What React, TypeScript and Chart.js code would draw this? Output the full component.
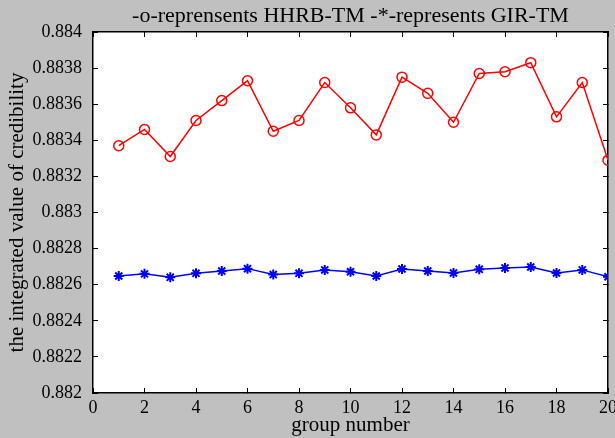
import React, { useEffect, useRef } from 'react';
import { Chart, registerables } from 'chart.js';

Chart.register(...registerables);

const groups = [1, 2, 3, 4, 5, 6, 7, 8, 9, 10, 11, 12, 13, 14, 15, 16, 17, 18, 19, 20];
const hhrbTm = [0.88337, 0.88346, 0.88331, 0.88351, 0.88362, 0.88373, 0.88345, 0.88351, 0.88372, 0.88358,
  0.88343, 0.88375, 0.88366, 0.8835, 0.88377, 0.88378, 0.88383, 0.88353, 0.88372, 0.88329];
const girTm = [0.882648, 0.88266, 0.882641, 0.882663, 0.882676, 0.882689, 0.882656, 0.882663, 0.882682, 0.882672,
  0.882648, 0.882687, 0.882676, 0.882665, 0.882685, 0.882693, 0.882698, 0.882665, 0.882682, 0.882644];
const xTicks = [0, 2, 4, 6, 8, 10, 12, 14, 16, 18, 20];
const yTicks = [0.882, 0.8822, 0.8824, 0.8826, 0.8828, 0.883, 0.8832, 0.8834, 0.8836, 0.8838, 0.884];

const titleText = '-o-reprensents HHRB-TM -*-represents GIR-TM';
const xTitle = 'group number';
const yTitle = 'the integrated value of credibility';

const FONT = 'Liberation Serif';
const GRAY = 'rgb(192,192,192)';

export default function App() {
  const ref = useRef<HTMLCanvasElement | null>(null);

  useEffect(() => {
    document.body.style.margin = '0';
    document.body.style.background = GRAY;
    const canvas = ref.current;
    if (!canvas) return;

    const whiteArea = {
      id: 'whiteArea',
      beforeDraw(chart: any) {
        const { ctx, chartArea } = chart;
        ctx.save();
        ctx.fillStyle = '#ffffff';
        ctx.fillRect(chartArea.left, chartArea.top, chartArea.right - chartArea.left, chartArea.bottom - chartArea.top);
        ctx.restore();
      },
    };

    const fmt = (v: any) => parseFloat(Number(v).toFixed(4)).toString();

    const chart = new Chart(canvas, {
      type: 'line',
      data: {
        datasets: [
          {
            label: 'HHRB-TM',
            data: groups.map((g, i) => ({ x: g, y: hhrbTm[i] })),
            borderColor: 'rgb(255,0,0)',
            backgroundColor: 'rgba(0,0,0,0)',
            borderWidth: 1.5,
            pointStyle: 'circle',
            pointRadius: 5,
            pointBorderWidth: 1.5,
            pointBorderColor: 'rgb(255,0,0)',
            pointBackgroundColor: 'rgba(0,0,0,0)',
            tension: 0,
          },
          {
            label: 'GIR-TM',
            data: groups.map((g, i) => ({ x: g, y: girTm[i] })),
            borderColor: 'rgb(0,0,255)',
            backgroundColor: 'rgba(0,0,0,0)',
            borderWidth: 1.5,
            pointStyle: 'star',
            pointRadius: 5,
            pointBorderWidth: 2,
            pointBorderColor: 'rgb(0,0,255)',
            pointBackgroundColor: 'rgb(0,0,255)',
            tension: 0,
          },
        ],
      },
      options: {
        animation: false,
        responsive: false,
        maintainAspectRatio: false,
        devicePixelRatio: 1,
        layout: { padding: { left: 0, right: 7, top: 0, bottom: 0 } },
        plugins: {
          legend: { display: false },
          tooltip: { enabled: false },
          title: {
            display: true,
            fullSize: false,
            text: titleText,
            color: '#000',
            font: { family: FONT, size: 22, weight: 'normal' },
            padding: { top: 3, bottom: 2.6 },
          },
        },
        scales: {
          x: {
            type: 'linear',
            position: 'bottom',
            min: 0,
            max: 20,
            afterBuildTicks: (s: any) => { s.ticks = xTicks.map((v) => ({ value: v })); },
            afterFit: (s: any) => { s.height = 45; s.paddingLeft = 0; s.paddingRight = 0; },
            ticks: { color: '#000', font: { family: FONT, size: 18 }, padding: 9, maxRotation: 0, callback: (v: any) => String(v) },
            grid: { drawOnChartArea: false, drawTicks: true, tickLength: -5, color: '#000', lineWidth: 1 },
            border: { display: true, color: '#000', width: 1.5 },
            title: { display: true, text: xTitle, color: '#000', font: { family: FONT, size: 21 }, padding: { top: 0, bottom: 0 } },
          },
          x2: {
            type: 'linear',
            position: 'top',
            min: 0,
            max: 20,
            afterBuildTicks: (s: any) => { s.ticks = xTicks.map((v) => ({ value: v })); },
            afterFit: (s: any) => { s.height = 0; s.paddingLeft = 0; s.paddingRight = 0; },
            ticks: { display: false },
            grid: { drawOnChartArea: false, drawTicks: true, tickLength: -5, color: '#000', lineWidth: 1 },
            border: { display: true, color: '#000', width: 1.5 },
          },
          y: {
            type: 'linear',
            position: 'left',
            min: 0.882,
            max: 0.884,
            afterBuildTicks: (s: any) => { s.ticks = yTicks.map((v) => ({ value: v })); },
            afterFit: (s: any) => { s.width = 93; s.paddingTop = 0; s.paddingBottom = 0; },
            ticks: { color: '#000', font: { family: FONT, size: 18 }, padding: 16, callback: fmt },
            grid: { drawOnChartArea: false, drawTicks: true, tickLength: -5, color: '#000', lineWidth: 1 },
            border: { display: true, color: '#000', width: 1.5 },
            title: { display: true, text: yTitle, color: '#000', font: { family: FONT, size: 21 }, padding: { top: 5, bottom: 0 } },
          },
          y2: {
            type: 'linear',
            position: 'right',
            min: 0.882,
            max: 0.884,
            afterBuildTicks: (s: any) => { s.ticks = yTicks.map((v) => ({ value: v })); },
            afterFit: (s: any) => { s.width = 0; s.paddingTop = 0; s.paddingBottom = 0; },
            ticks: { display: false },
            grid: { drawOnChartArea: false, drawTicks: true, tickLength: -5, color: '#000', lineWidth: 1 },
            border: { display: true, color: '#000', width: 1.5 },
          },
        },
      } as any,
      plugins: [whiteArea],
    });

    return () => chart.destroy();
  }, []);

  return (
    <div style={{ width: 615, height: 438, background: GRAY, position: 'relative' }}>
      <canvas ref={ref} width={615} height={438} style={{ display: 'block', width: 615, height: 438 }} />
    </div>
  );
}
